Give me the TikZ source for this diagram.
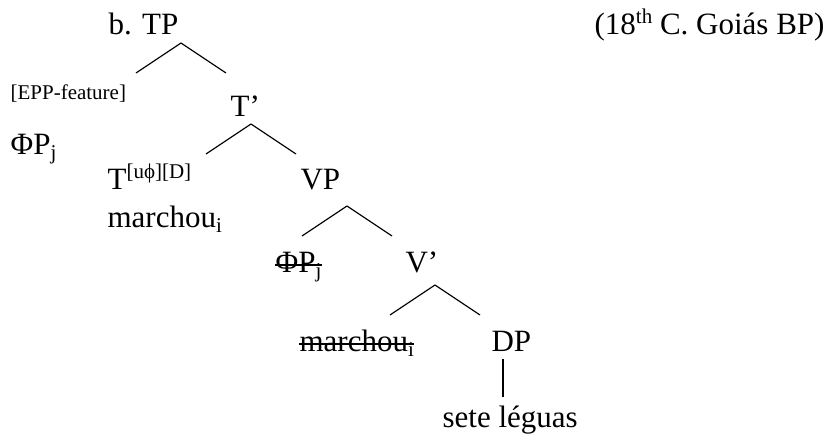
\documentclass[tikz,border=0pt]{standalone}
\usepackage{fontspec}
\setmainfont{Liberation Serif}

% raised and lowered indices
\newcommand{\supfeat}[1]{\raisebox{0.36em}{\fontsize{21}{24}\selectfont #1}}
\newcommand{\subidx}[1]{\raisebox{-0.15em}{\fontsize{21}{24}\selectfont #1}}

\begin{document}
\begin{tikzpicture}[x=1pt,y=-1pt,line width=1.2pt,
		every node/.style={anchor=base west,inner sep=0pt,font=\fontsize{31}{36}\selectfont},
		feature/.style={font=\fontsize{21}{24}\selectfont}]
			\useasboundingbox (0,0) rectangle (832,435);

			% labels of the tree
			\node (tp) at (108,35) {b. TP};
			\node (source) at (594,35) {(18\supfeat{th} C. Goiás BP)};
			\node[feature] (epp) at (10,100) {[EPP-feature]};
			\node (tbar) at (230,117) {T’};
			\node (phi) at (10,155) {ΦP\subidx{j}};
			\node (thead) at (107,190) {T\supfeat{[uϕ][D]}};
			\node (verb) at (107,228) {marchou\subidx{i}};
			\node (vp) at (300,190) {VP};
			\node (phitrace) at (275,273) {ΦP\subidx{j}};
			\node (vbar) at (405,273) {V’};
			\node (verbtrace) at (299,352) {marchou\subidx{i}};
			\node (dp) at (491,352) {DP};
			\node (legua) at (442,427) {sete léguas};

			% copies that are struck out
			\foreach \n in {phitrace,verbtrace}
				\draw ([yshift=8pt]\n.base west) -- ([yshift=8pt]\n.base east);

			% branching points
			\coordinate (tp-br) at (181,43);
			\coordinate (tbar-br) at (251,124);
			\coordinate (vp-br) at (347,206);
			\coordinate (vbar-br) at (435,285);
			\coordinate (dp-br) at (503,359);

			\foreach \br in {tp-br,tbar-br,vp-br,vbar-br}
				\draw (\br) -- ++(-45,30) (\br) -- ++(45,30);
			\draw (dp-br) -- ++(0,38);
\end{tikzpicture}
\end{document}
